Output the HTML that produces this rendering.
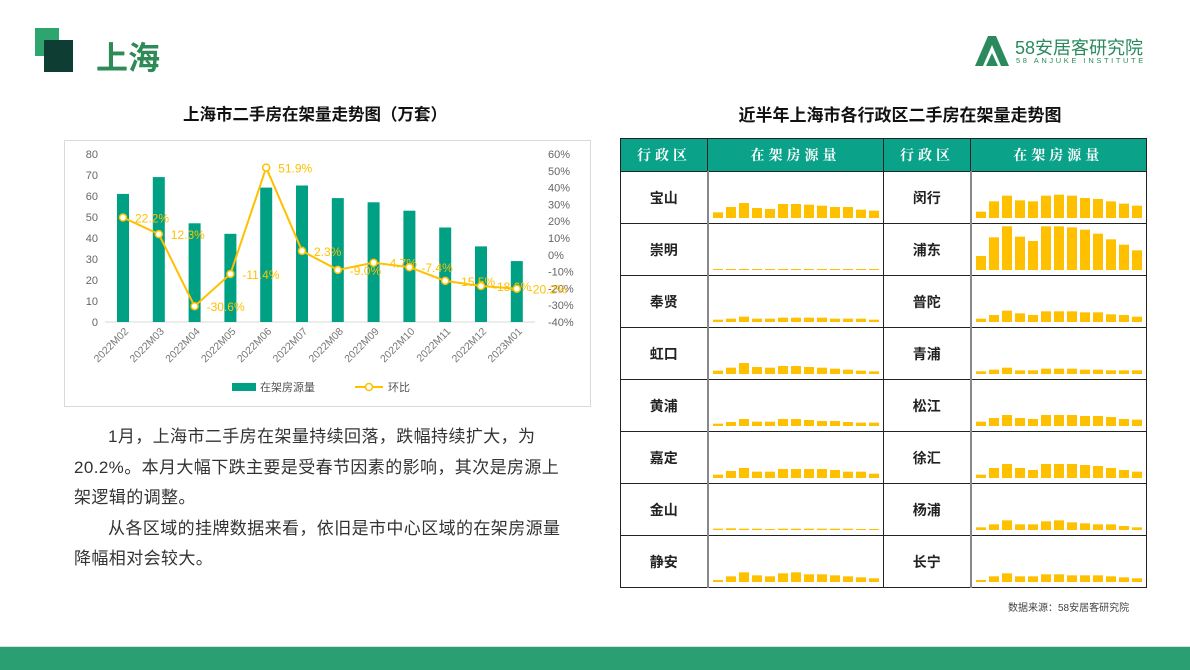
<!DOCTYPE html>
<html><head><meta charset="utf-8">
<style>
body{margin:0;width:1190px;height:669px;overflow:hidden;background:#fff;font-family:"Liberation Sans","Noto Sans CJK SC",sans-serif;position:relative}
.abs{position:absolute}
table{border-collapse:collapse;position:absolute;left:620px;top:138px;}
td{border:1px solid #222;padding:0;height:51px;text-align:center;font-weight:bold;font-size:14px;color:#222}
th{background:#0aa38a;color:#fff;height:32px;font-family:"Noto Serif CJK SC",serif;font-size:14px;letter-spacing:4px;border:1px solid #222;font-weight:bold;padding:0}
td.sp{border-left:2px solid #888;position:relative}
</style></head><body>
<div class="abs" style="left:35px;top:28px;width:24px;height:28px;background:#2ea56f"></div>
<div class="abs" style="left:44px;top:40px;width:29px;height:32px;background:#0d3d33"></div>
<div class="abs" style="left:96px;top:38px;font-size:32px;font-weight:bold;color:#2e8b57;line-height:40px">上海</div>
<div class="abs" style="left:975px;top:36px;width:180px;height:34px">
<svg width="34" height="30" style="position:absolute;left:0;top:0"><polygon points="13,0 21,0 34,30 26,30 17,9 8,30 0,30" fill="#2a8a5e"/><polygon points="17,17 23,30 11,30" fill="#2a8a5e"/></svg>
<div style="position:absolute;left:40px;top:-2px;font-size:18px;color:#2a8a5e;white-space:nowrap">58安居客研究院</div>
<div style="position:absolute;left:41px;top:20px;font-size:7.5px;color:#2a8a5e;letter-spacing:2.6px;white-space:nowrap">58 ANJUKE INSTITUTE</div>
</div>
<div class="abs" style="left:110px;top:101px;width:410px;text-align:center;font-size:16.5px;font-weight:bold;color:#111">上海市二手房在架量走势图（万套）</div>
<div class="abs" style="left:690px;top:101px;width:420px;text-align:center;font-size:17px;font-weight:bold;color:#111">近半年上海市各行政区二手房在架量走势图</div>
<div class="abs" style="left:64px;top:140px;width:525px;height:265px;border:1px solid #d9d9d9"></div>
<svg class="abs" id="chart" style="left:0;top:0" width="600" height="410"></svg>
<div class="abs" style="left:74px;top:422px;width:520px;font-size:17px;letter-spacing:0.4px;line-height:30.5px;color:#333;white-space:nowrap">
<div style="padding-left:34px">1月，上海市二手房在架量持续回落，跌幅持续扩大，为</div>
<div>20.2%。本月大幅下跌主要是受春节因素的影响，其次是房源上</div>
<div>架逻辑的调整。</div>
<div style="padding-left:34px">从各区域的挂牌数据来看，依旧是市中心区域的在架房源量</div>
<div>降幅相对会较大。</div>
</div>
<table id="tbl">
<tr><th style="width:86px">行政区</th><th style="width:175px">在架房源量</th><th style="width:86px">行政区</th><th style="width:174px">在架房源量</th></tr>
</table>
<div class="abs" style="left:1008px;top:599px;font-size:10px;color:#444">数据来源：58安居客研究院</div>
<div class="abs" style="left:0;top:646px;width:1190px;height:23px;background:#2a9f72;border-top:1px solid #dde"></div>
<script>
const months=["2022M02","2022M03","2022M04","2022M05","2022M06","2022M07","2022M08","2022M09","2022M10","2022M11","2022M12","2023M01"];
const stock=[61,69,47,42,64,65,59,57,53,45,36,29];
const mom=[22.2,12.3,-30.6,-11.4,51.9,2.3,-9.0,-4.7,-7.4,-15.5,-18.6,-20.2];
const leftTicks=[0,10,20,30,40,50,60,70,80];
const rightTicks=[-40,-30,-20,-10,0,10,20,30,40,50,60];
const NS="http://www.w3.org/2000/svg";
const svg=document.getElementById('chart');
const yL=v=>322-v*(168/80), yR=v=>322-(v+40)*(168/100), x=i=>123+i*35.8;
function mk(t,a,txt){const e=document.createElementNS(NS,t);for(const k in a)e.setAttribute(k,a[k]);if(txt!==undefined)e.textContent=txt;svg.appendChild(e);return e;}
leftTicks.forEach(v=>{const e=mk('text',{x:98,y:yL(v)+4,'text-anchor':'end','font-size':11,fill:'#666'},v);});
rightTicks.forEach(v=>{const e=mk('text',{x:548,y:yR(v)+4,'font-size':11,fill:'#666'},v+'%');});
const ax=mk('line',{x1:105,x2:535,y1:322,y2:322,stroke:'#d9d9d9'});
stock.forEach((v,i)=>{const r=mk('rect',{x:x(i)-6,y:yL(v),width:12,height:322-yL(v),fill:'#00a085'});
const t=mk('text',{x:x(i)+6,y:332,'text-anchor':'end','font-size':10.5,fill:'#777',transform:`rotate(-45 ${x(i)+6} 332)`},months[i]);});
const pl=mk('polyline',{points:mom.map((v,i)=>x(i)+','+yR(v)).join(' '),fill:'none',stroke:'#ffc000','stroke-width':2});
mom.forEach((v,i)=>{const c=mk('circle',{cx:x(i),cy:yR(v),r:3.5,fill:'#fff',stroke:'#ffc000','stroke-width':1.5});
const t=mk('text',{x:x(i)+12,y:yR(v)+5,'font-size':12,fill:'#ffc000'},v.toFixed(1)+'%');});
const lr=mk('rect',{x:232,y:383,width:24,height:8,fill:'#00a085'});
const lt=mk('text',{x:260,y:391,'font-size':11,fill:'#555'},'在架房源量');
const ll=mk('line',{x1:355,x2:383,y1:387,y2:387,stroke:'#ffc000','stroke-width':2});
const lc=mk('circle',{cx:369,cy:387,r:3.5,fill:'#fff',stroke:'#ffc000','stroke-width':1.5});
const lt2=mk('text',{x:388,y:391,'font-size':11,fill:'#555'},'环比');

const leftNames=["宝山","崇明","奉贤","虹口","黄浦","嘉定","金山","静安"];
const rightNames=["闵行","浦东","普陀","青浦","松江","徐汇","杨浦","长宁"];
const leftSeries=[[17,33,45,30,27,42,42,40,37,33,33,25,22],[3,3,3,3,3,3,3,3,3,3,3,3,3],[7,10,16,10,10,13,13,13,13,10,10,10,7],[10,19,33,21,19,24,24,21,19,16,13,10,8],[7,12,21,13,13,21,21,18,15,15,12,10,10],[10,21,30,19,19,27,27,27,27,24,19,19,13],[4,5,4,4,3,4,4,4,4,4,4,3,3],[6,17,29,20,17,26,29,23,23,20,17,14,11]];
const rightSeries=[[19,50,67,53,50,67,70,67,60,57,50,43,37],[42,98,131,100,87,131,131,128,121,109,92,76,59],[10,21,34,26,21,32,32,32,29,29,23,21,16],[8,13,19,11,11,16,16,16,13,13,11,11,11],[13,24,33,24,21,33,33,33,30,30,27,21,19],[10,30,42,30,24,42,42,42,39,36,30,24,19],[8,17,29,17,17,26,29,23,20,17,17,12,8],[6,17,26,17,17,23,23,20,20,20,17,14,11]];
const tbl=document.getElementById('tbl');
function spark(td,vals){const s=document.createElementNS(NS,'svg');s.setAttribute('width',174);s.setAttribute('height',51);s.style.display='block';
vals.forEach((v,i)=>{const h=v/3;const r=document.createElementNS(NS,'rect');r.setAttribute('x',4+i*13);r.setAttribute('y',46-h);r.setAttribute('width',10);r.setAttribute('height',h);r.setAttribute('fill','#ffc000');


s.appendChild(r);});td.appendChild(s);}
leftNames.forEach((n,i)=>{const tr=document.createElement('tr');
const a=document.createElement('td');a.textContent=n;


const b=document.createElement('td');b.className='sp';


spark(b,leftSeries[i]);
const c=document.createElementNS?document.createElement('td'):null;c.textContent=rightNames[i];


const d=document.createElement('td');d.className='sp';


spark(d,rightSeries[i]);
tr.append(a,b,c,d);tbl.appendChild(tr);});
</script>
</body></html>
